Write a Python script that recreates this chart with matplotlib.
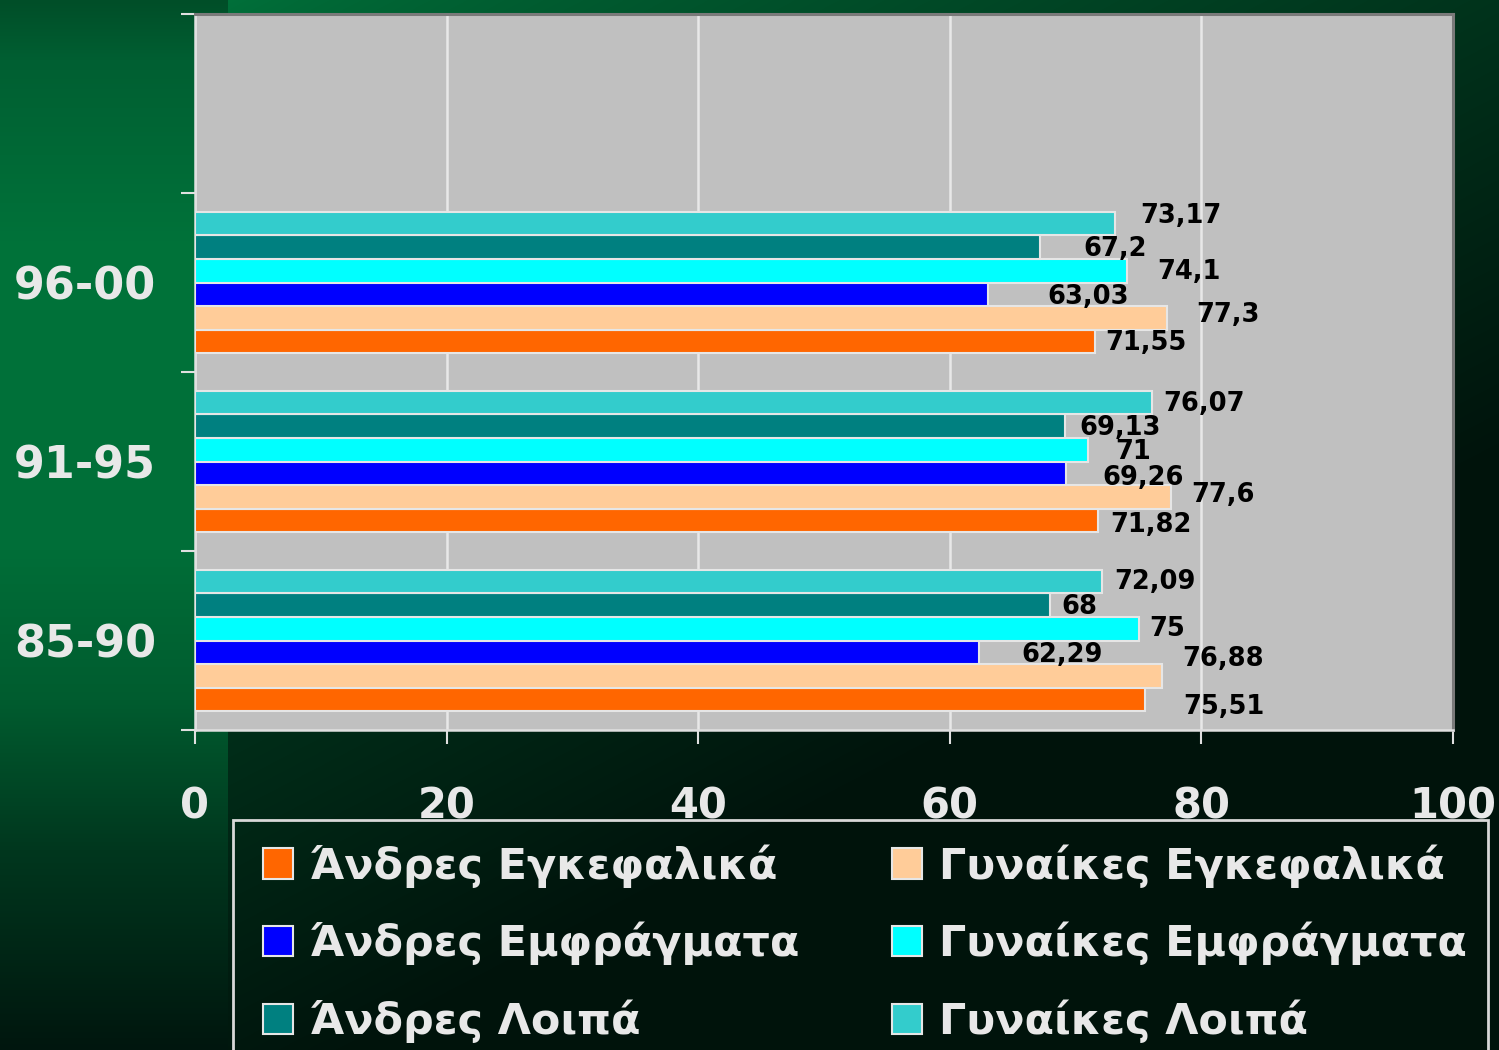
import numpy as np
import matplotlib
matplotlib.use("Agg")
import matplotlib.pyplot as plt
from matplotlib.patches import Rectangle

# ---------------- data ----------------
categories = ["85-90", "91-95", "96-00", ""]
series_names = ["Άνδρες Εγκεφαλικά", "Γυναίκες Εγκεφαλικά",
                "Άνδρες Εμφράγματα", "Γυναίκες Εμφράγματα",
                "Άνδρες Λοιπά", "Γυναίκες Λοιπά"]
andres_egkef = [75.51, 71.82, 71.55]
gynaikes_egkef = [76.88, 77.6, 77.3]
andres_emfr = [62.29, 69.26, 63.03]
gynaikes_emfr = [75, 71, 74.1]
andres_loipa = [68, 69.13, 67.2]
gynaikes_loipa = [72.09, 76.07, 73.17]
series_values = [andres_egkef, gynaikes_egkef, andres_emfr,
                 gynaikes_emfr, andres_loipa, gynaikes_loipa]
series_colors = ["#FF6600", "#FFCC99", "#0000FF", "#00FFFF", "#008080", "#33CCCC"]
xticks = [0, 20, 40, 60, 80, 100]

# label offsets in pixels (dx right of bar end, dy downward) per series, per category
label_offsets = [
    [(38, 7), (12, 4), (10, 1)],
    [(20, -17), (20, -2), (29, -3)],
    [(43, 3), (36, 5), (59, 3)],
    [(11, 0), (27, 2), (30, 1)],
    [(11, 2), (15, 2), (43, 2)],
    [(12, 1), (11, 2), (25, -7)],
]

W, H = 1499, 1050
fig = plt.figure(figsize=(W / 100, H / 100), dpi=100)

# ---------------- background ----------------
xs = np.arange(W)[None, :].astype(float)
ys = np.arange(H)[:, None].astype(float)
bright = np.array([0, 112, 58]) / 255
dark = np.array([0, 20, 12]) / 255
xn = np.clip((xs - 228) / (W - 228), 0, 1)
yn = ys / H
t = np.clip(0.6 * xn + 0.95 * yn, 0, 1) ** 0.8
img = bright[None, None, :] * (1 - t[..., None]) + dark[None, None, :] * t[..., None]
# left strip
ycp = [0, 60, 250, 550, 700, 850, 1050]
gcp = [78, 95, 115, 110, 92, 55, 22]
bcp = [40, 50, 58, 56, 47, 30, 14]
gs = np.interp(np.arange(H), ycp, gcp) / 255
bs = np.interp(np.arange(H), ycp, bcp) / 255
strip = np.stack([np.zeros(H), gs, bs], axis=1)[:, None, :]
img[:, :228, :] = np.repeat(strip, 228, axis=1)
bg = fig.add_axes([0, 0, 1, 1], zorder=-10)
bg.imshow(img, aspect="auto", extent=(0, 1, 0, 1), origin="upper")
bg.set_axis_off()

# ---------------- main axes ----------------
ax = fig.add_axes([195 / W, 1 - 730 / H, (1453 - 195) / W, (730 - 14) / H])
ax.set_facecolor("#C0C0C0")
ncat = len(categories)
ypos = np.arange(ncat)
bh = 0.132
handles = []
for i, (name, vals, col) in enumerate(zip(series_names, series_values, series_colors)):
    yy = ypos[:len(vals)] + (i - 2.5) * bh
    b = ax.barh(yy, vals, height=bh, color=col, edgecolor="#E6E6E6",
                linewidth=1.5, zorder=3, label=name)
    handles.append(b)
    for j, (v, y) in enumerate(zip(vals, yy)):
        dx, dy = label_offsets[i][j]
        ax.annotate(f"{v:g}".replace(".", ","), xy=(v, y), xytext=(dx, -dy),
                    textcoords="offset pixels", ha="left", va="center",
                    fontsize=18.5, fontweight="bold", color="black",
                    family="DejaVu Sans", zorder=5)

ax.set_xlim(0, 100)
ax.set_ylim(-0.5, ncat - 0.5)
ax.set_xticks(xticks)
ax.set_xticklabels([str(v) for v in xticks])
ax.set_yticks(np.arange(ncat + 1) - 0.5)
ax.set_yticklabels([])
ax.set_yticks(ypos[:3], minor=True)
ax.set_yticklabels(categories[:3], minor=True)

ax.tick_params(axis="y", which="major", direction="out", length=10, width=1.5,
               color="#E0E0E0")
ax.tick_params(axis="y", which="minor", length=0, pad=28, labelsize=32,
               labelcolor="#E8E8E8")
ax.tick_params(axis="x", which="major", direction="out", length=10, width=1.5,
               color="#E0E0E0", pad=30, labelsize=30, labelcolor="#E8E8E8")
for lab in ax.get_xticklabels() + ax.get_yticklabels(minor=True):
    lab.set_fontweight("bold")

ax.xaxis.grid(True, color="#E8E8E8", linewidth=1.8, zorder=1)
ax.set_axisbelow(True)
ax.spines["left"].set_color("#E0E0E0")
ax.spines["bottom"].set_color("#E0E0E0")
ax.spines["left"].set_linewidth(1.8)
ax.spines["bottom"].set_linewidth(1.8)
ax.spines["top"].set_color("#7A7A7A")
ax.spines["right"].set_color("#7A7A7A")
ax.spines["top"].set_linewidth(2.2)
ax.spines["right"].set_linewidth(2.2)

# ---------------- legend ----------------
fig.patches.append(Rectangle((233 / W, -0.05), (1488 - 233) / W, 0.05 + 1 - 820 / H,
                             transform=fig.transFigure, facecolor="none",
                             edgecolor="#D8D8D8", linewidth=2, zorder=1))
order = [0, 2, 4, 1, 3, 5]
leg = fig.legend([handles[k] for k in order], [series_names[k] for k in order],
                 ncol=2, loc="upper left",
                 bbox_to_anchor=(263 / W, 1 - 844 / H),
                 frameon=False,
                 prop={"family": "DejaVu Sans", "weight": "bold", "size": 30.9},
                 labelcolor="#E8E8E8", handlelength=0.7, handleheight=0.7,
                 handletextpad=0.4, labelspacing=0.8, borderpad=0,
                 columnspacing=2.15, borderaxespad=0)

fig.savefig("out.png", dpi=100)
